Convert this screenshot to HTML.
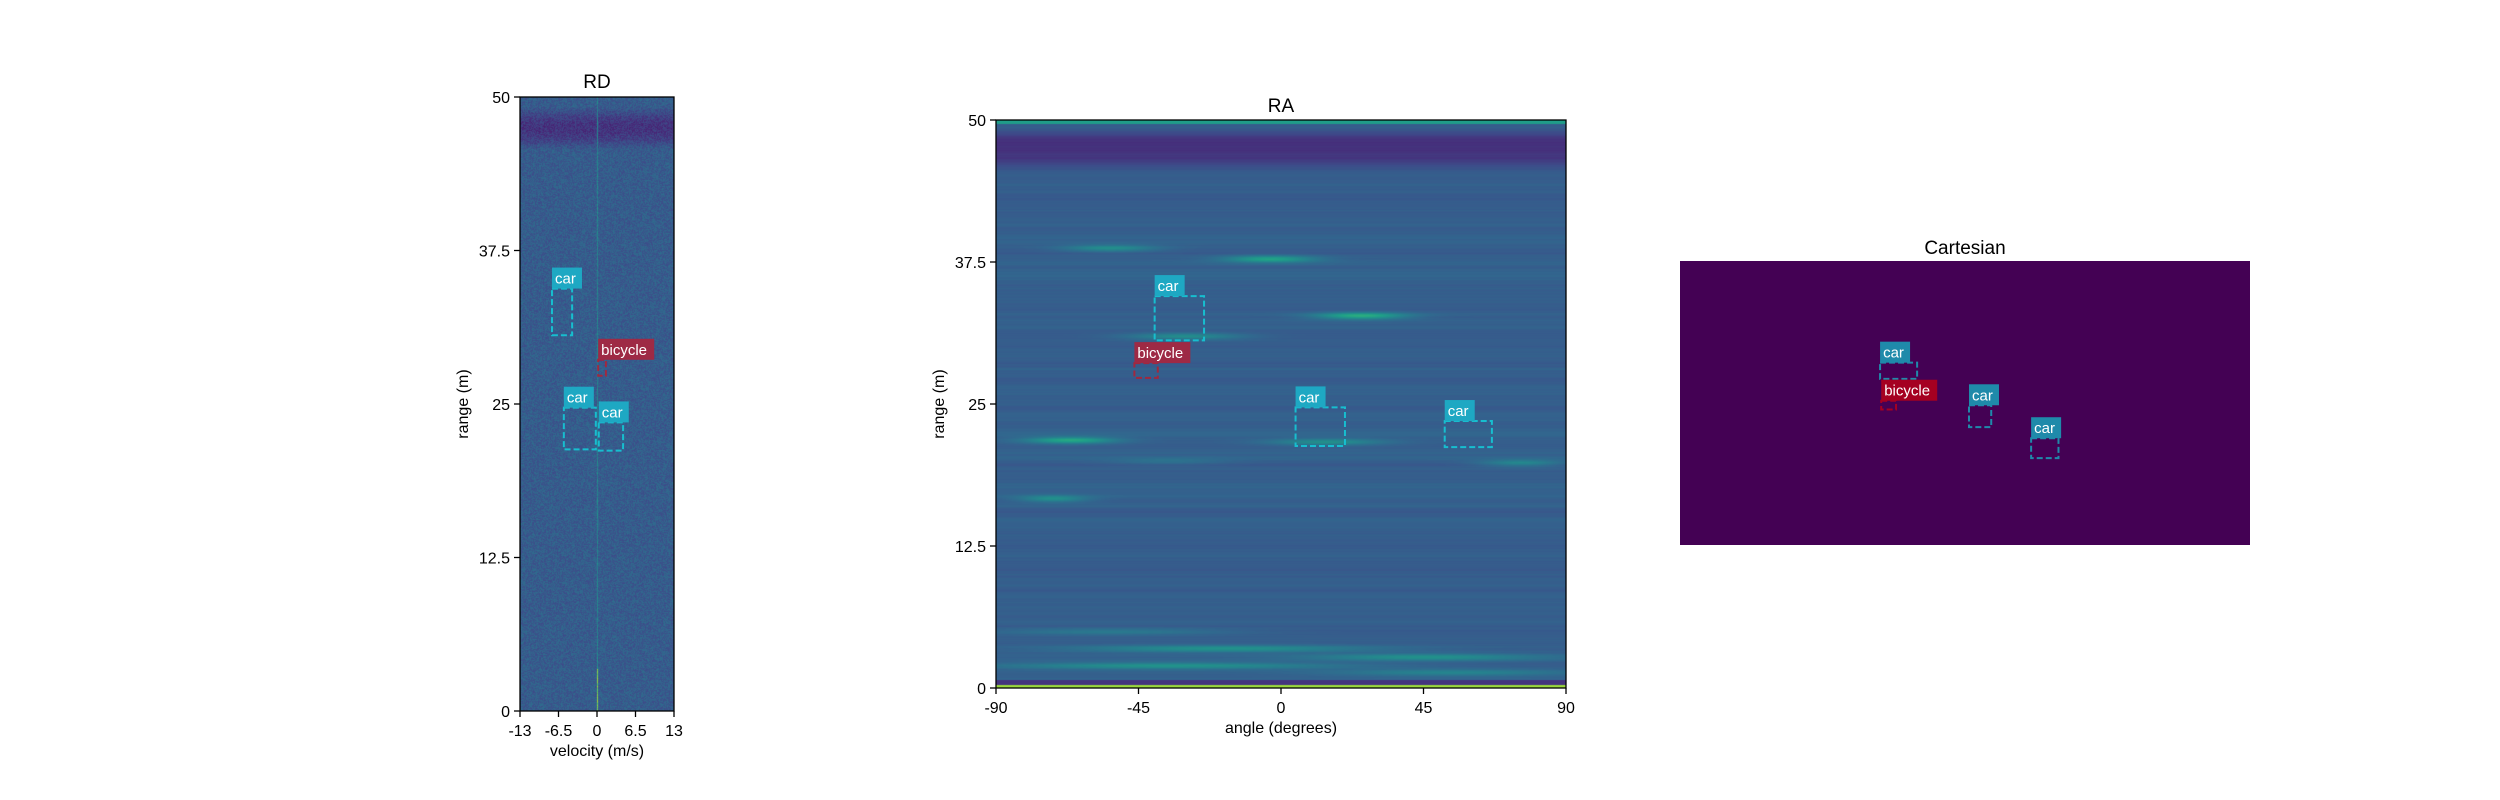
<!DOCTYPE html>
<html><head><meta charset="utf-8"><style>
html,body{margin:0;padding:0;background:#fff;}
#wrap{position:relative;width:2500px;height:800px;overflow:hidden;font-family:"Liberation Sans","DejaVu Sans",sans-serif;}
canvas{position:absolute;}
svg{position:absolute;left:0;top:0;}
</style></head><body>
<div id="wrap">
<canvas id="rdc" style="left:520px;top:97px" width="154" height="614"></canvas>
<canvas id="rac" style="left:996px;top:120px" width="570" height="568"></canvas>
<svg id="s" width="2500" height="800"></svg>
</div>
<script>
// ---- data ----
const rdXTicks = [-13, -6.5, 0, 6.5, 13];
const rdYTicks = [0, 12.5, 25, 37.5, 50];
const raXTicks = [-90, -45, 0, 45, 90];
const raYTicks = [0, 12.5, 25, 37.5, 50];
const rdLabels = ["car", "bicycle", "car", "car"];
const rdV0 = [-7.6, 0.2, -5.6, 0.3];
const rdV1 = [-4.2, 1.5, -0.2, 4.4];
const rdR0 = [30.6, 27.3, 21.3, 21.2];
const rdR1 = [34.4, 28.6, 24.7, 23.5];
const raLabels = ["car", "bicycle", "car", "car"];
const raA0 = [-39.9, -46.3, 4.6, 51.7];
const raA1 = [-24.3, -38.9, 20.2, 66.6];
const raR0 = [30.6, 27.3, 21.3, 21.2];
const raR1 = [34.5, 28.6, 24.7, 23.5];
const caLabels = ["car", "bicycle", "car", "car"];
const caX0 = [35.1, 35.3, 50.7, 61.6];
const caX1 = [41.6, 37.9, 54.6, 66.4];
const caY0 = [35.8, 49.2, 50.8, 62.4];
const caY1 = [41.5, 52.3, 58.5, 69.4];

const NS = "http://www.w3.org/2000/svg";
const svg = document.getElementById('s');
function mk(tag, attrs, parent){const e=document.createElementNS(NS,tag);for(const k in attrs)e.setAttribute(k,attrs[k]);(parent||svg).appendChild(e);return e;}
function txt(x,y,t,attrs){const e=mk('text',Object.assign({x:x,y:y,'font-size':16,fill:'#000','font-family':'Liberation Sans, DejaVu Sans, sans-serif'},attrs||{}));e.textContent=t;return e;}

const RD={x0:520,x1:674,y0:97,y1:711,vmin:-13,vmax:13,rmin:0,rmax:50};
const RA={x0:996,x1:1566,y0:120,y1:688,vmin:-90,vmax:90,rmin:0,rmax:50};
const CA={x0:1680,x1:2250,y0:261,y1:545};
function sx(a,v){return a.x0+(v-a.vmin)/(a.vmax-a.vmin)*(a.x1-a.x0);}
function sy(a,r){return a.y1-(r-a.rmin)/(a.rmax-a.rmin)*(a.y1-a.y0);}
function cx(v){return CA.x0+v/100*(CA.x1-CA.x0);}
function cy(v){return CA.y0+v/100*(CA.y1-CA.y0);}

// ---- heatmap textures ----
let seed=12345;function rnd(){seed=(seed*1103515245+12345)&0x7fffffff;return seed/0x7fffffff;}
const vir=[[68,1,84],[72,40,120],[62,74,137],[49,104,142],[38,130,142],[31,158,137],[53,183,121],[109,205,89],[180,222,44],[253,231,37]];
function cmap(t){t=Math.max(0,Math.min(0.999,t));const f=t*(vir.length-1);const i=Math.floor(f),u=f-i;const a=vir[i],b=vir[i+1];return [a[0]+(b[0]-a[0])*u,a[1]+(b[1]-a[1])*u,a[2]+(b[2]-a[2])*u];}
(function(){
 const c=document.getElementById('rdc'),g=c.getContext('2d'),W=c.width,H=c.height;const im=g.createImageData(W,H);
 const zx=Math.floor(W/2);
 for(let y=0;y<H;y++){for(let x=0;x<W;x++){
  let t=0.22+rnd()*0.14;
  const fr=y/H; if(fr>0.015&&fr<0.085) t-=0.14*Math.sin((fr-0.015)/0.07*Math.PI);
  if(x===zx) t=0.38+rnd()*0.15+(fr>0.93?0.35:0);
  const p=cmap(t),k=(y*W+x)*4;im.data[k]=p[0];im.data[k+1]=p[1];im.data[k+2]=p[2];im.data[k+3]=255;}}
 g.putImageData(im,0,0);
})();
(function(){
 const c=document.getElementById('rac'),g=c.getContext('2d'),W=c.width,H=c.height;const im=g.createImageData(W,H);
 const rows=[];let rv=0.5;for(let y=0;y<H;y++){rv=0.7*rv+0.3*rnd();rows.push(rv);}
 const streaks=[[0.225,0.2,0.08,0.2],[0.244,0.48,0.08,0.28],[0.344,0.64,0.08,0.32],[0.38,0.33,0.1,0.2],[0.563,0.13,0.08,0.3],[0.566,0.58,0.1,0.2],[0.603,0.92,0.07,0.18],[0.666,0.1,0.06,0.2],[0.6,0.3,0.1,0.08],[0.93,0.4,0.25,0.22],[0.945,0.75,0.2,0.2],[0.96,0.3,0.3,0.22],[0.972,0.8,0.2,0.15],[0.9,0.2,0.2,0.12]];
 for(let y=0;y<H;y++){for(let x=0;x<W;x++){
  const fr=y/H,fx=x/W;let t=0.25+rows[y]*0.1;
  if(fr>0.012&&fr<0.09) t-=0.17*Math.sin((fr-0.012)/0.078*Math.PI);
  if(fr<0.006) t=0.55;
  for(const s of streaks){const dy=(fr-s[0])/0.006,dx=(fx-s[1])/s[2];t+=s[3]*Math.exp(-dy*dy-dx*dx);}
  if(fr>0.985&&fr<0.993) t=0.15;
  if(fr>=0.993) t=0.85;
  const p=cmap(t),k=(y*W+x)*4;im.data[k]=p[0];im.data[k+1]=p[1];im.data[k+2]=p[2];im.data[k+3]=255;}}
 g.putImageData(im,0,0);
})();

// ---- axes ----
function axes(a,xt,yt,name,xlabel){
 const fr=mk('rect',{x:a.x0,y:a.y0,width:a.x1-a.x0,height:a.y1-a.y0,fill:'none',stroke:'#000','stroke-width':1.3});
 
 xt.forEach(v=>{const x=sx(a,v);mk('line',{x1:x,x2:x,y1:a.y1,y2:a.y1+6,stroke:'#000','stroke-width':1.3});
  const t=txt(x,a.y1+25,String(v),{'text-anchor':'middle'});});
 yt.forEach(v=>{const y=sy(a,v);mk('line',{x1:a.x0-6,x2:a.x0,y1:y,y2:y,stroke:'#000','stroke-width':1.3});
  const t=txt(a.x0-10,y+6,String(v),{'text-anchor':'end'});});
 const xl=txt((a.x0+a.x1)/2,a.y1+45,xlabel,{'text-anchor':'middle'});
 const yx=a.x0-52,yy=(a.y0+a.y1)/2;
 const yl=txt(yx,yy,'range (m)',{'text-anchor':'middle',transform:'rotate(-90 '+yx+' '+yy+')'});
}
axes(RD,rdXTicks,rdYTicks,'rd','velocity (m/s)');
axes(RA,raXTicks,raYTicks,'ra','angle (degrees)');
let t1=txt(597,88,'RD',{'text-anchor':'middle','font-size':19});
let t2=txt(1281,112,'RA',{'text-anchor':'middle','font-size':19});
let t3=txt(1965,254,'Cartesian',{'text-anchor':'middle','font-size':19});
const cb=mk('rect',{x:CA.x0,y:CA.y0,width:CA.x1-CA.x0,height:CA.y1-CA.y0,fill:'#440154'});


// ---- boxes ----
function box(x0,x1,yTop,yBot,label,carCol,bikeCol,name){
 const col=label==='car'?carCol[0]:bikeCol[0],bg=label==='car'?carCol[1]:bikeCol[1];
 const r=mk('rect',{x:x0,y:yTop,width:x1-x0,height:yBot-yTop,fill:'none',stroke:col,'stroke-width':2,'stroke-dasharray':'6,3'});
 
 const w=label==='car'?30:56;
 const lb=mk('rect',{x:x0,y:yTop-21,width:w,height:21,fill:bg});
 
 const t=txt(x0+3,yTop-5,label,{fill:'#fff','font-size':15});
 
}
const carC=['#17becf','#1ea8c3'],bikeC=['#a0283f','#9e2a45'];
rdLabels.forEach((l,i)=>box(sx(RD,rdV0[i]),sx(RD,rdV1[i]),sy(RD,rdR1[i]),sy(RD,rdR0[i]),l,carC,bikeC,'rd'));
raLabels.forEach((l,i)=>box(sx(RA,raA0[i]),sx(RA,raA1[i]),sy(RA,raR1[i]),sy(RA,raR0[i]),l,carC,bikeC,'ra'));
caLabels.forEach((l,i)=>box(cx(caX0[i]),cx(caX1[i]),cy(caY0[i]),cy(caY1[i]),l,['#1f8aaa','#1f8aaa'],['#a50021','#a50021'],'cartesian'));
</script>
</body></html>
